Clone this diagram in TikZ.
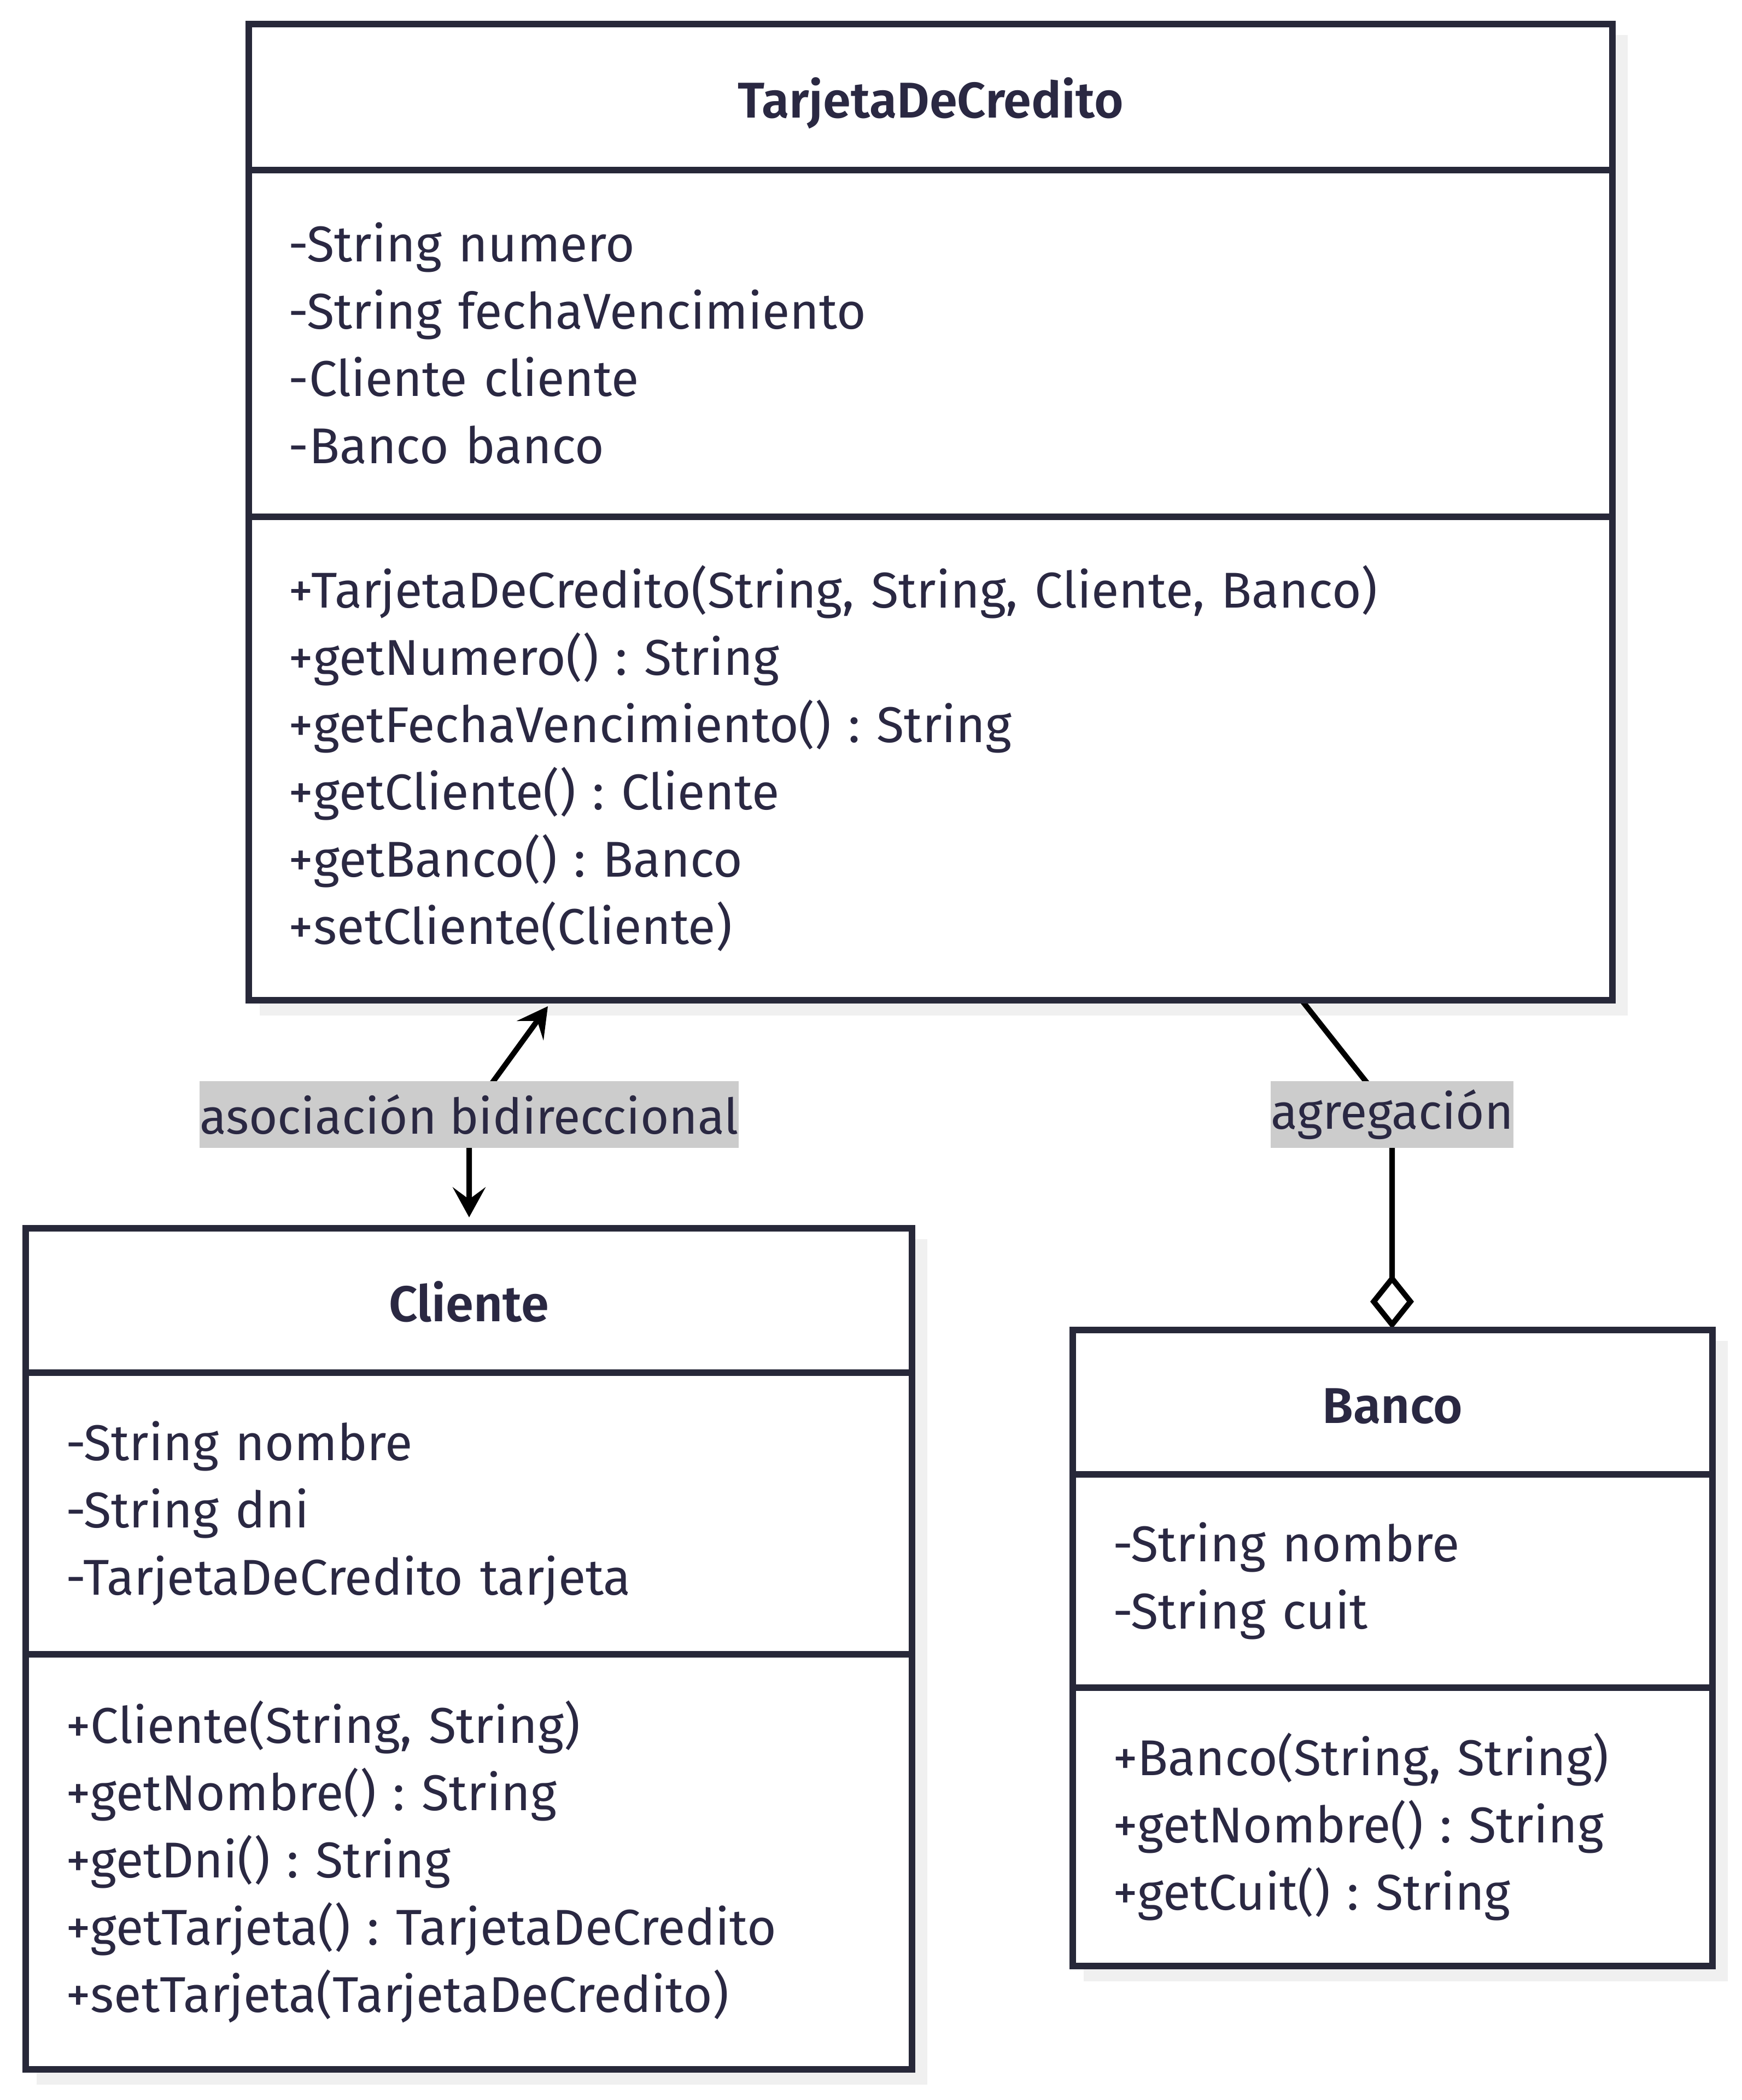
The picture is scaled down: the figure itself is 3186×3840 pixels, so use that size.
\documentclass[tikz,border=0pt]{standalone}
\usepackage{fontspec}
\setmainfont{Fira Sans}[BoldFont={Fira Sans SemiBold}]
\usetikzlibrary{positioning, arrows.meta, backgrounds, calc}
\frenchspacing

\definecolor{umlline}{HTML}{272839}
\definecolor{umltext}{HTML}{2A2842}
\definecolor{umlshadow}{HTML}{F0F0F0}
\definecolor{umllabel}{HTML}{CCCCCC}

\tikzset{
  compart/.style={draw=umlline, fill=white, line width=1.2pt, outer sep=0pt,
    inner xsep=7.3pt, inner ysep=0pt, align=left, text=umltext,
    font=\fontsize{9.2}{12.3}\selectfont},
  classhead/.style={compart, align=center, text height=9.6pt, text depth=2pt,
    font=\fontsize{9.2}{12.3}\selectfont\bfseries},
  relation/.style={line width=1pt, black},
  assoctip/.tip={Stealth[length=5.5pt, width=6pt, inset=2.2pt]},
  rellabel/.style={fill=umllabel, text=umltext, inner xsep=0pt, inner ysep=0pt,
    minimum height=12.2pt, font=\fontsize{9}{12.3}\selectfont},
  shadowbox/.style={fill=umlshadow, draw=none}
}

\begin{document}
\begin{tikzpicture}[x=0.1pt, y=-0.1pt]
    \useasboundingbox (0,0) rectangle (3186,3840);

    % --- TarjetaDeCredito ---
    \node[classhead, text width=234.8pt, minimum height=26.7pt, anchor=north west] (tjHead) at (455,44) {TarjetaDeCredito};
    \node[compart, text width=234.8pt, minimum height=63.4pt, below=0pt of tjHead] (tjAttr)
        {-String numero\\-String fechaVencimiento\\-Cliente cliente\\-Banco banco};
    \node[compart, text width=234.8pt, minimum height=88.4pt, below=0pt of tjAttr] (tjOps)
        {+TarjetaDeCredito(String, String, Cliente, Banco)\\+getNumero() : String\\+getFechaVencimiento() : String\\+getCliente() : Cliente\\+getBanco() : Banco\\+setCliente(Cliente)};

    % --- Cliente ---
    \node[classhead, text width=147.5pt, minimum height=26.4pt, anchor=north west] (clHead) at (47,2246) {Cliente};
    \node[compart, text width=147.5pt, minimum height=51.5pt, below=0pt of clHead] (clAttr)
        {-String nombre\\-String dni\\-TarjetaDeCredito tarjeta};
    \node[compart, text width=147.5pt, minimum height=75.9pt, below=0pt of clAttr] (clOps)
        {+Cliente(String, String)\\+getNombre() : String\\+getDni() : String\\+getTarjeta() : TarjetaDeCredito\\+setTarjeta(TarjetaDeCredito)};

    % --- Banco ---
    \node[classhead, text width=102.4pt, minimum height=26.4pt, anchor=north west] (bnHead) at (1962,2432) {Banco};
    \node[compart, text width=102.4pt, minimum height=39pt, below=0pt of bnHead] (bnAttr)
        {-String nombre\\-String cuit};
    \node[compart, text width=102.4pt, minimum height=50.9pt, below=0pt of bnAttr] (bnOps)
        {+Banco(String, String)\\+getNombre() : String\\+getCuit() : String};

    % --- etiquetas de las relaciones ---
    \node[rellabel] (lblAsoc) at (858,2038) {asociación bidireccional};
    \node[rellabel] (lblAgr) at (2546,2038) {agregación};

    \coordinate (tjA) at (1002,1840);
    \coordinate (clA) at (858,2226);
    \coordinate (tjB) at (2383,1832);
    \coordinate (bnB) at (2546,2430);

    \begin{scope}[on background layer]
        % sombras
        \fill[shadowbox] ($(tjHead.north west)+(20,20)$) rectangle ($(tjOps.south east)+(28,28)$);
        \fill[shadowbox] ($(clHead.north west)+(20,20)$) rectangle ($(clOps.south east)+(28,28)$);
        \fill[shadowbox] ($(bnHead.north west)+(20,20)$) rectangle ($(bnOps.south east)+(28,28)$);
        % relaciones
        \draw[relation, assoctip-assoctip] (tjA) -- (lblAsoc.center) -- (clA);
        \draw[relation, -{Diamond[fill=white, length=10pt, width=8pt]}] (tjB) -- (lblAgr.center) -- (bnB);
    \end{scope}
\end{tikzpicture}
\end{document}
